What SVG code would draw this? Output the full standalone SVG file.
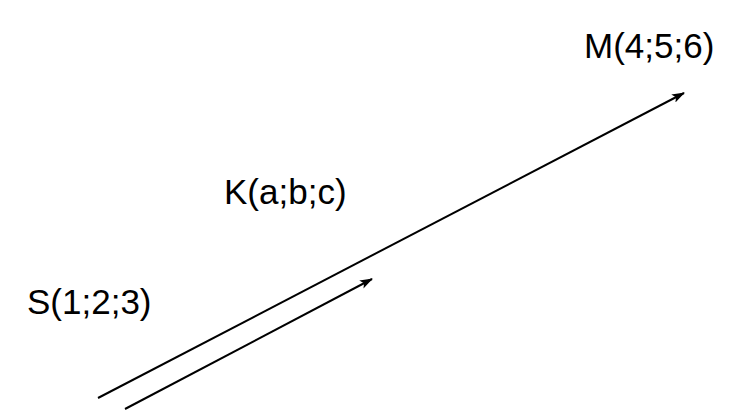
<svg xmlns="http://www.w3.org/2000/svg" width="753" height="418" viewBox="0 0 753 418">
<style>
text{font-family:"Liberation Sans",Arial,sans-serif;font-size:35px;fill:#000}
.c{stroke:#000;stroke-width:2;fill:none;marker-end:url(#ah)}
</style>
<defs>
<marker id="ah" viewBox="0 0 13 9" refX="12" refY="4.5" markerWidth="13" markerHeight="9" markerUnits="userSpaceOnUse" orient="auto">
<path d="M0,0 L13,4.5 L0,9 L3,4.5 z" fill="#000"/>
</marker>
</defs>
<rect width="753" height="418" fill="#fff"/>
<g id="connectors">
<path class="c" d="M98,398 L684,93"/>
<path class="c" d="M125,409 L372,279"/>
</g>
<g id="M"><text x="584" y="58">M(4;5;6)</text></g>
<g id="K"><text x="224" y="204">K(a;b;c)</text></g>
<g id="S"><text x="27" y="314">S(1;2;3)</text></g>
</svg>
